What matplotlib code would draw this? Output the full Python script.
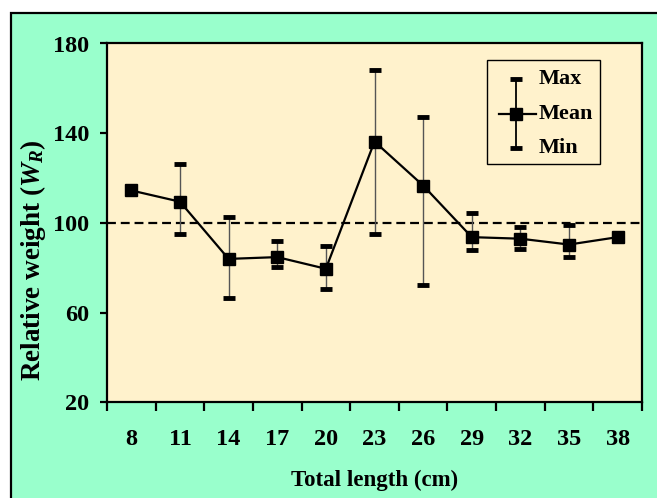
import numpy as np
import matplotlib
matplotlib.use("Agg")
import matplotlib.pyplot as plt
from matplotlib.patches import Rectangle

# Data
lengths = ["8", "11", "14", "17", "20", "23", "26", "29", "32", "35", "38"]
mean_wr = [114.5, 109.5, 84.0, 84.8, 79.6, 136.3, 116.7, 93.7, 93.0, 90.4, 93.7]
max_wr = [None, 126.5, 102.8, 92.2, 89.7, 168.0, 147.2, 104.5, 98.1, 99.0, None]
min_wr = [None, 95.2, 66.7, 80.2, 70.4, 95.2, 72.5, 87.8, 88.2, 84.8, None]
y_ticks = [20, 60, 100, 140, 180]
ref_line = 100

plt.rcParams["font.family"] = "Liberation Serif"
plt.rcParams["font.weight"] = "bold"
plt.rcParams["mathtext.fontset"] = "custom"
plt.rcParams["mathtext.it"] = "Liberation Serif:italic:bold"
plt.rcParams["mathtext.rm"] = "Liberation Serif:bold"
plt.rcParams["mathtext.bf"] = "Liberation Serif:bold"

W, H = 657, 498
fig = plt.figure(figsize=(W / 100, H / 100), dpi=100)
fig.patch.set_facecolor("white")

# green background panel (cut off at right and bottom)
bg = Rectangle((10.5 / W, -0.05), 1.1, 1 - 13.5 / H + 0.05, transform=fig.transFigure,
               facecolor="#99FFCC", edgecolor="black", linewidth=1.6, zorder=0)
fig.add_artist(bg)

ax = fig.add_axes([107 / W, 1 - 402.5 / H, 535 / W, 359 / H])
ax.set_facecolor("#FFF2CC")
for s in ax.spines.values():
    s.set_linewidth(1.6)
    s.set_color("black")

x = np.arange(len(lengths))

# error bars (only where min/max exist)
ex = [i for i in x if max_wr[i] is not None]
em = [mean_wr[i] for i in ex]
lo = [mean_wr[i] - min_wr[i] for i in ex]
hi = [max_wr[i] - mean_wr[i] for i in ex]
ax.errorbar(ex, em, yerr=[lo, hi], fmt="none", ecolor="#555555", elinewidth=1.0,
            capsize=0, zorder=2)
ax.plot(ex, [max_wr[i] for i in ex], linestyle="none", marker="_", markersize=8,
        markeredgewidth=3.5, color="black", zorder=3)
ax.plot(ex, [min_wr[i] for i in ex], linestyle="none", marker="_", markersize=8,
        markeredgewidth=3.5, color="black", zorder=3)

ax.axhline(ref_line, color="black", linestyle=(0, (4, 2.2)), linewidth=1.6, zorder=1)

ax.plot(x, mean_wr, color="black", linewidth=1.6, marker="s", markersize=9,
        markerfacecolor="black", markeredgecolor="black", zorder=4)

ax.set_xlim(-0.5, len(lengths) - 0.5)
ax.set_ylim(20, 180)
ax.set_yticks(y_ticks)
ax.set_xticks(np.arange(-0.5, len(lengths), 1))
ax.set_xticklabels([])
ax.set_xticks(x, minor=True)
ax.set_xticklabels(lengths, minor=True)

ax.tick_params(axis="y", direction="out", length=5, width=1.6, pad=8, labelsize=17.5)
ax.tick_params(axis="x", which="major", direction="out", length=6.5, width=1.6)
ax.tick_params(axis="x", which="minor", length=0, pad=19, labelsize=17.5)

ax.set_xlabel("Total length (cm)", fontsize=16.5, fontweight="bold", labelpad=14)
ax.set_ylabel("Relative weight ($W_R$)", fontsize=19.5, fontweight="bold")
ax.yaxis.set_label_coords(-0.138, 0.397)
ax.yaxis.label.set_va("center")

# legend drawn by hand
tr = ax.transAxes
leg = Rectangle((0.710, 0.663), 0.211, 0.290, transform=tr, facecolor="none",
                edgecolor="black", linewidth=1.0, zorder=5)
ax.add_patch(leg)
hx = 0.7645
ax.plot([hx, hx], [0.710, 0.900], transform=tr, color="black", linewidth=1.3, zorder=6)
ax.plot([hx], [0.900], transform=tr, marker="_", markersize=8, markeredgewidth=3.5,
        color="black", zorder=6)
ax.plot([hx], [0.710], transform=tr, marker="_", markersize=8, markeredgewidth=3.5,
        color="black", zorder=6)
ax.plot([0.733, 0.802], [0.805, 0.805], transform=tr, color="black", linewidth=1.6, zorder=6)
ax.plot([hx], [0.805], transform=tr, marker="s", markersize=9, color="black", zorder=7)
for ty, lab in [(0.900, "Max"), (0.805, "Mean"), (0.710, "Min")]:
    ax.text(0.806, ty, lab, transform=tr, fontsize=16, fontweight="bold",
            va="center", ha="left", zorder=7)

fig.savefig("out.png", dpi=100)
